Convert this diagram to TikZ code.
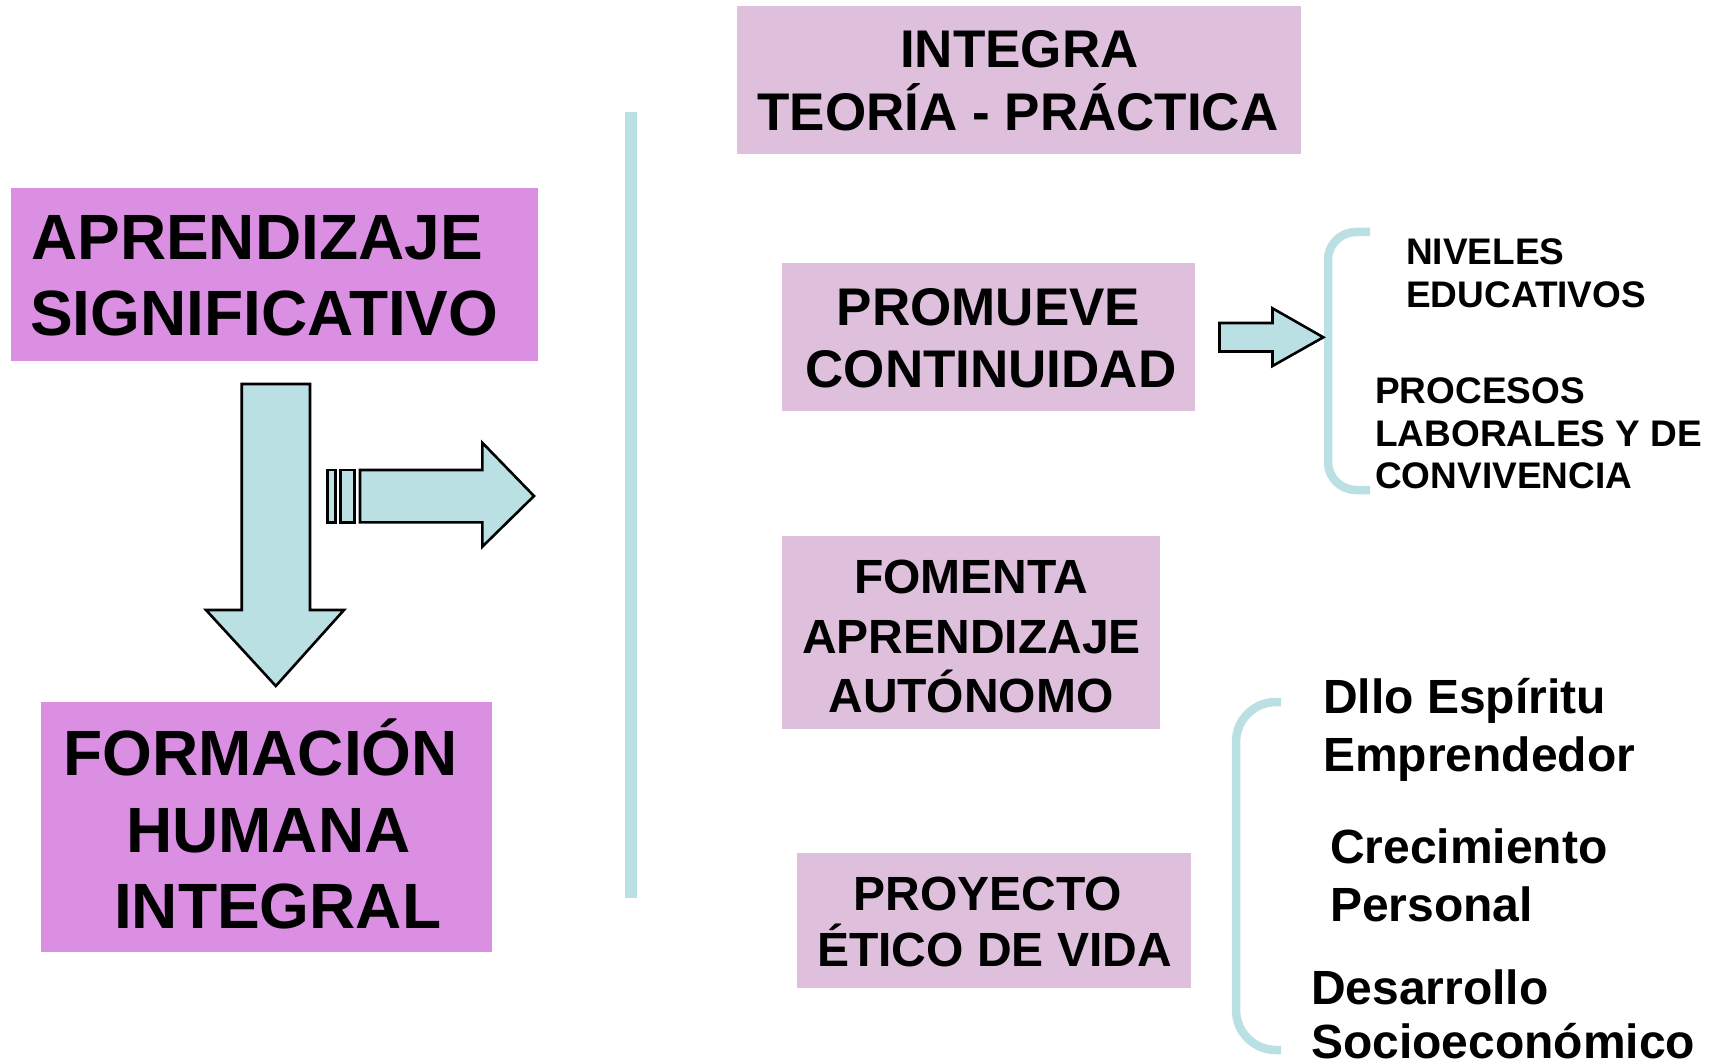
\documentclass[tikz,border=0pt]{standalone}
\usepackage{fontspec}
\setmainfont{Liberation Sans}
\definecolor{orchidbox}{HTML}{DA8FE3}
\definecolor{lilacbox}{HTML}{DEC0DC}
\definecolor{paleblue}{HTML}{BAE0E3}
\begin{document}
\begin{tikzpicture}[x=1pt,y=-1pt,
  obox/.style={fill=orchidbox, draw=none, inner sep=0pt, outer sep=0pt},
  lbox/.style={fill=lilacbox, draw=none, inner sep=0pt, outer sep=0pt},
  tA/.style={font=\fontsize{64}{64}\selectfont\bfseries, inner sep=0pt},
  tB/.style={font=\fontsize{53}{53}\selectfont\bfseries, inner sep=0pt},
  tC/.style={font=\fontsize{48}{48}\selectfont\bfseries, inner sep=0pt},
  tD/.style={font=\fontsize{37}{37}\selectfont\bfseries, inner sep=0pt},
  blockarrow/.style={fill=paleblue, draw=black, line width=2.6pt, line join=miter},
  bracket/.style={draw=paleblue, line width=8.5pt}
]
\useasboundingbox (0,0) rectangle (1721,1064);
\fill[white] (0,0) rectangle (1721,1064);

% boxes
\node[obox, minimum width=527pt, minimum height=173pt] (aprbox) at (274.5,274.5) {};
\node[obox, minimum width=451pt, minimum height=250pt] (formbox) at (266.5,827) {};
\node[lbox, minimum width=564pt, minimum height=148pt] (integbox) at (1019,80) {};
\node[lbox, minimum width=413pt, minimum height=148pt] (promubox) at (988.5,337) {};
\node[lbox, minimum width=378pt, minimum height=193pt] (fomebox) at (971,632.5) {};
\node[lbox, minimum width=394pt, minimum height=135pt] (proybox) at (994,920.5) {};

% texts in orchid boxes
\node[tA, anchor=base west] (apr1) at (31,260) {APRENDIZAJE};
\node[tA, anchor=base west] (apr2) at (30,336) {SIGNIFICATIVO};
\node[tA, anchor=base west] (form1) at (63,775) {FORMACIÓN};
\node[tA, anchor=base west] (form2) at (126,852) {HUMANA};
\node[tA, anchor=base west] (form3) at (114,928) {INTEGRAL};

% texts in lilac boxes
\node[tB, anchor=base] (int1) at (1019.5,68) {INTEGRA};
\node[tB, anchor=base] (int2) at (1018,131) {TEORÍA - PRÁCTICA};
\node[tB, anchor=base] (pro1) at (988.5,326) {PROMUEVE};
\node[tB, anchor=base] (pro2) at (991,388) {CONTINUIDAD};
\node[tC, anchor=base] (fom1) at (971,593) {FOMENTA};
\node[tC, anchor=base] (fom2) at (971.5,653) {APRENDIZAJE};
\node[tC, anchor=base] (fom3) at (971,712) {AUTÓNOMO};
\node[tC, anchor=base] (proy1) at (988,910) {PROYECTO};
\node[tC, anchor=base] (proy2) at (994.5,966) {ÉTICO DE VIDA};

% right side texts
\node[tD, anchor=base west] (niv1) at (1406,265) {NIVELES};
\node[tD, anchor=base west] (niv2) at (1406,308) {EDUCATIVOS};
\node[tD, anchor=base west] (prc1) at (1375,403) {PROCESOS};
\node[tD, anchor=base west] (prc2) at (1375,446) {LABORALES Y DE};
\node[tD, anchor=base west] (prc3) at (1375,488) {CONVIVENCIA};

\node[tC, anchor=base west] (dll1) at (1323,713) {Dllo Espíritu};
\node[tC, anchor=base west] (dll2) at (1323,771) {Emprendedor};
\node[tC, anchor=base west] (cre1) at (1330,863) {Crecimiento};
\node[tC, anchor=base west] (cre2) at (1330,921) {Personal};
\node[tC, anchor=base west] (des1) at (1311,1004) {Desarrollo};
\node[tC, anchor=base west, text depth=0pt] (des2) at (1311,1058) {Socioeconómico};

% vertical bar
\fill[paleblue] (625,112) rectangle (637,898);

% brackets
\draw[bracket, rounded corners=28pt] (1370,232) -- (1328,232) -- (1328,490) -- (1370,490);
\draw[bracket, rounded corners=40pt] (1281,702) -- (1236,702) -- (1236,1050) -- (1281,1050);

% down arrow
\draw[blockarrow] (241.7,384) -- (310,384) -- (310,610) -- (344,610) -- (275.8,686)
  -- (206,610) -- (241.7,610) -- cycle;

% striped right arrow
\draw[blockarrow] (327.7,470) rectangle (335.7,522.3);
\draw[blockarrow] (340.7,470) rectangle (354.3,522.3);
\draw[blockarrow] (360,470) -- (482.3,470) -- (482.3,442.7) -- (534,496)
  -- (482.3,546.7) -- (482.3,522.3) -- (360,522.3) -- cycle;

% small arrow to bracket
\draw[blockarrow] (1219.5,323) -- (1272.5,323) -- (1272.5,308.3) -- (1323.3,337.3)
  -- (1272.5,366) -- (1272.5,351.5) -- (1219.5,351.5) -- cycle;
\end{tikzpicture}
\end{document}
